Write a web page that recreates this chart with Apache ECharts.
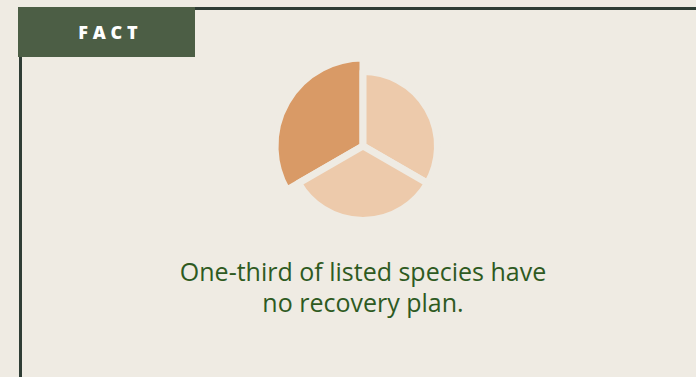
<!DOCTYPE html>
<html>
<head>
<meta charset="utf-8">
<style>
html,body{margin:0;padding:0;background:#efebe3;}
#c{width:696px;height:377px;}
</style>
<script src="https://cdn.jsdelivr.net/npm/echarts@6/dist/echarts.min.js"></script>
</head>
<body>
<div id="c"></div>
<script>
// Data
const categories = ['Listed species with a plan', 'Listed species with a plan ', 'No recovery plan'];
const shares = [1, 1, 1]; // one-third each
const highlight = [false, false, true];
const label = 'FACT';
const caption = 'One-third of listed species have\nno recovery plan.';

const BG = '#efebe3';
const DARK = '#d99a66';
const LIGHT = '#edcaab';
const GREEN = '#4c5e45';
const LINE = '#2f3d35';
const TEXT = '#2e5a1f';

function seriesData(showHighlighted) {
  return categories.map((name, i) => {
    const shown = highlight[i] === showHighlighted;
    return {
      name, value: shares[i],
      itemStyle: shown
        ? {color: highlight[i] ? DARK : LIGHT, borderColor: BG, borderWidth: 7}
        : {color: 'transparent', borderWidth: 0}
    };
  });
}

const chart = echarts.init(document.getElementById('c'), null, {renderer: 'svg'});
chart.setOption({
  backgroundColor: BG,
  animation: false,
  series: [
    {
      type: 'pie', center: [363, 146], radius: [0, 88], startAngle: 90,
      label: {show: false}, labelLine: {show: false}, silent: true,
      data: seriesData(true), z: 2
    },
    {
      type: 'pie', center: [363, 146], radius: [0, 74.5], startAngle: 90,
      label: {show: false}, labelLine: {show: false}, silent: true,
      data: seriesData(false), z: 3
    }
  ],
  graphic: [
    {type: 'rect', shape: {x: 195, y: 7, width: 501, height: 3}, style: {fill: LINE}, z: 10},
    {type: 'rect', shape: {x: 19, y: 7, width: 3, height: 370}, style: {fill: LINE}, z: 10},
    {type: 'rect', shape: {x: 18, y: 7, width: 177, height: 50}, style: {fill: GREEN}, z: 11},
    {type: 'text', x: 108, y: 32, z: 12,
     style: {text: label.split('').join('\u2009\u200a'), fill: '#ffffff', font: '800 18px "Open Sans"',
             align: 'center', verticalAlign: 'middle'}},
    {type: 'text', x: 363, y: 286, z: 12,
     style: {text: caption, fill: TEXT, font: '400 25px "Open Sans"', lineHeight: 31,
             align: 'center', verticalAlign: 'middle'}}
  ]
});
</script>
</body>
</html>
